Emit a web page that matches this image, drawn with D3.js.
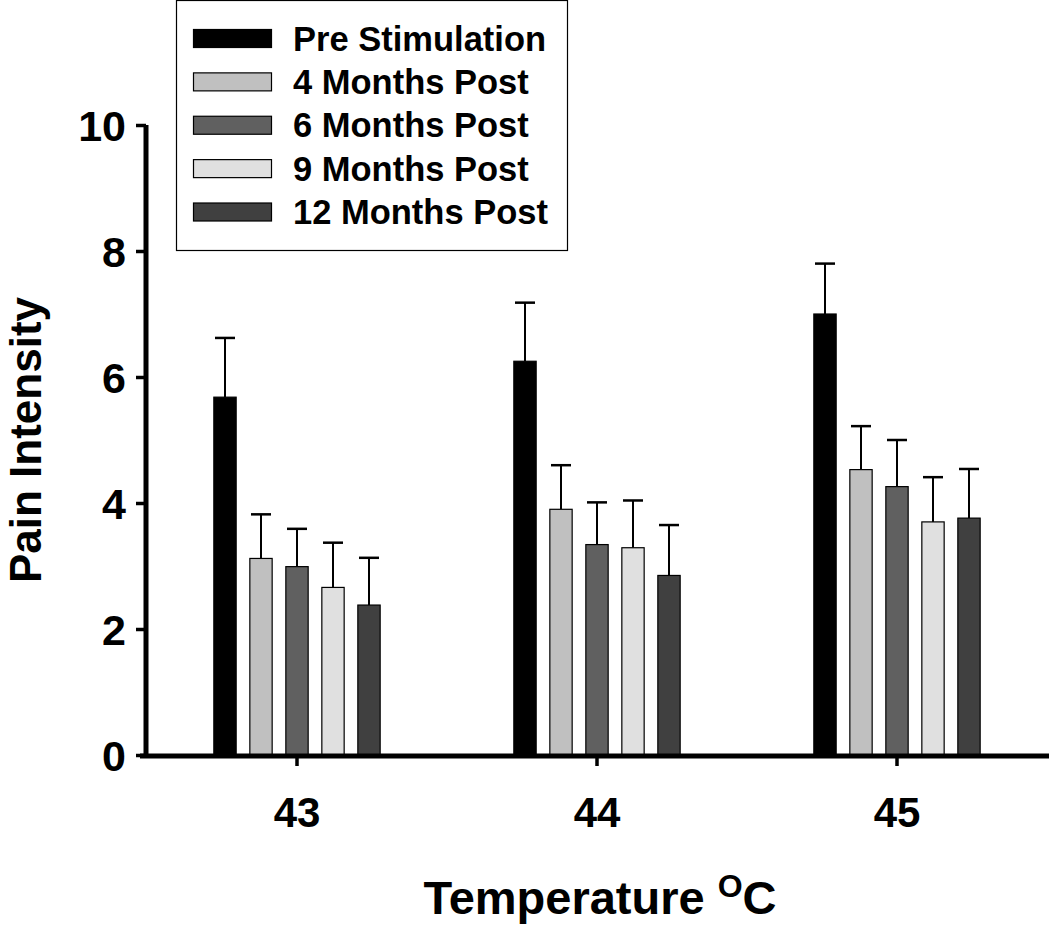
<!DOCTYPE html>
<html><head><meta charset="utf-8">
<script src="https://cdn.jsdelivr.net/npm/d3@7"></script>
<style>body{margin:0;background:#fff}text{font-family:"Liberation Sans",Arial,sans-serif;font-weight:bold}</style>
</head><body>
<svg id="c" width="1050" height="928"></svg>
<script>
const categories = ["43", "44", "45"];
const seriesNames = ["Pre Stimulation", "4 Months Post", "6 Months Post", "9 Months Post", "12 Months Post"];
const preStim = [5.68, 6.25, 7.00];
const post4 = [3.12, 3.90, 4.53];
const post6 = [2.99, 3.34, 4.26];
const post9 = [2.66, 3.29, 3.70];
const post12 = [2.38, 2.85, 3.76];
const preStimErr = [0.94, 0.93, 0.80];
const post4Err = [0.70, 0.70, 0.69];
const post6Err = [0.60, 0.67, 0.74];
const post9Err = [0.71, 0.75, 0.71];
const post12Err = [0.75, 0.80, 0.78];
const yTicks = [0, 2, 4, 6, 8, 10];
const colors = ["#000000", "#c0c0c0", "#606060", "#e0e0e0", "#404040"];

const values = [preStim, post4, post6, post9, post12];
const errs = [preStimErr, post4Err, post6Err, post9Err, post12Err];

const svg = d3.select("#c");
const x = d3.scaleBand().domain(categories).range([147, 1047]).padding(0);
const xi = d3.scaleBand().domain(d3.range(5)).range([-90, 90]).paddingInner(0.38).paddingOuter(0.19);
const y = d3.scaleLinear().domain([0, 10]).range([755, 125]);

const data = [];
categories.forEach((c, ci) => values.forEach((s, si) => data.push({c, si, v: s[ci], e: errs[si][ci]})));

const cx = d => x(d.c) + x.bandwidth() / 2 + xi(d.si);
// error bars
const eb = svg.append("g");
eb.selectAll("line.v").data(data).join("line")
  .attr("x1", d => cx(d) + xi.bandwidth() / 2).attr("x2", d => cx(d) + xi.bandwidth() / 2)
  .attr("y1", d => y(d.v)).attr("y2", d => y(d.v + d.e))
  .attr("stroke", "#000").attr("stroke-width", 2);
eb.selectAll("line.c").data(data).join("line")
  .attr("x1", d => cx(d) + xi.bandwidth() / 2 - 10).attr("x2", d => cx(d) + xi.bandwidth() / 2 + 10)
  .attr("y1", d => y(d.v + d.e)).attr("y2", d => y(d.v + d.e))
  .attr("stroke", "#000").attr("stroke-width", 2.5);
// bars
svg.append("g").selectAll("rect").data(data).join("rect")
  .attr("x", d => cx(d)).attr("width", xi.bandwidth())
  .attr("y", d => y(d.v)).attr("height", d => y(0) - y(d.v))
  .attr("fill", d => colors[d.si]).attr("stroke", "#000").attr("stroke-width", 1.2);

// y axis
const ya = svg.append("g").attr("transform", "translate(146,0)")
  .call(d3.axisLeft(y).tickValues(yTicks).tickSize(10).tickPadding(10));
ya.select(".domain").attr("stroke-width", 5).attr("d", `M0,${y(10)}V${y(0) + 2}`);
ya.selectAll(".tick line").attr("stroke-width", 3.5);
ya.selectAll(".tick text").attr("font-size", 43).attr("font-family", "Liberation Sans").attr("font-weight", "bold").attr("dy", "0.36em");

// x axis
const xa = svg.append("g").attr("transform", "translate(0,756)")
  .call(d3.axisBottom(x).tickSize(10).tickPadding(31));
xa.select(".domain").attr("stroke-width", 5).attr("d", "M140,0H1049");
xa.selectAll(".tick line").attr("stroke-width", 3.5);
xa.selectAll(".tick text").attr("font-size", 42).attr("font-family", "Liberation Sans").attr("font-weight", "bold");

// axis titles
svg.append("text").attr("transform", "translate(41,440) rotate(-90)").attr("text-anchor", "middle")
  .attr("font-size", 44).text("Pain Intensity");
const xt = svg.append("text").attr("x", 600).attr("y", 914).attr("text-anchor", "middle").attr("font-size", 47);
xt.append("tspan").text("Temperature ");
xt.append("tspan").attr("font-size", 32).attr("dy", -17).text("O");
xt.append("tspan").attr("dy", 17).text("C");

// legend
const lg = svg.append("g");
lg.append("rect").attr("x", 176.5).attr("y", 0.5).attr("width", 391).attr("height", 250)
  .attr("fill", "#fff").attr("stroke", "#000").attr("stroke-width", 1.2);
const ly = d3.scalePoint().domain(d3.range(5)).range([38.5, 212]);
lg.selectAll("rect.sw").data(seriesNames).join("rect").attr("class", "sw")
  .attr("x", 193.5).attr("width", 78).attr("y", (d, i) => ly(i) - 9).attr("height", 18)
  .attr("fill", (d, i) => colors[i]).attr("stroke", "#000").attr("stroke-width", 1.2);
lg.selectAll("text").data(seriesNames).join("text")
  .attr("x", 293).attr("y", (d, i) => ly(i) + 12).attr("font-size", 34.5).text(d => d);
</script>
</body></html>
